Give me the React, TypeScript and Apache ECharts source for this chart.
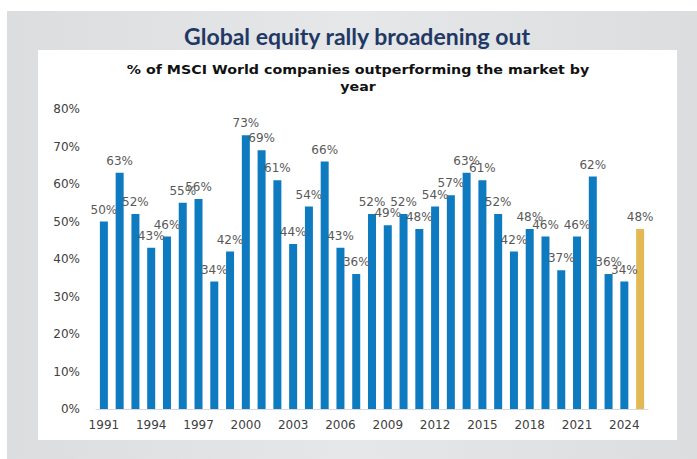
import React, { useEffect, useRef } from "react";
import * as echarts from "echarts";

const years = [
  "1991","1992","1993","1994","1995","1996","1997","1998","1999","2000",
  "2001","2002","2003","2004","2005","2006","2007","2008","2009","2010",
  "2011","2012","2013","2014","2015","2016","2017","2018","2019","2020",
  "2021","2022","2023","2024","2025",
];
const values = [
  50, 63, 52, 43, 46, 55, 56, 34, 42, 73,
  69, 61, 44, 54, 66, 43, 36, 52, 49, 52,
  48, 54, 57, 63, 61, 52, 42, 48, 46, 37,
  46, 62, 36, 34, 48,
];
const highlightYear = "2025";
const titleText = "Global equity rally broadening out";
const subtitleText = "% of MSCI World companies outperforming the market by\nyear";

const BLUE = "#0E7BC1";
const GOLD = "#E3B955";

export default function App() {
  const ref = useRef<HTMLDivElement>(null);
  useEffect(() => {
    if (!ref.current) return;
    const chart = echarts.init(ref.current, null, { renderer: "svg" });
    chart.setOption({
      animation: false,
      backgroundColor: "#ffffff",
      graphic: [
        {
          type: "rect",
          z: -10,
          shape: { x: 7, y: 11, width: 690, height: 448 },
          style: {
            fill: new echarts.graphic.LinearGradient(0, 0, 1, 0, [
              { offset: 0, color: "#DCDDDF" },
              { offset: 0.5, color: "#E6E7E9" },
              { offset: 1, color: "#DCDDDF" },
            ]),
          },
        },
        {
          type: "rect",
          z: -9,
          shape: { x: 38, y: 50, width: 639, height: 390 },
          style: { fill: "#ffffff" },
        },
        {
          type: "text",
          x: 357,
          y: 36,
          style: {
            text: titleText,
            fill: "#1F3864",
            font: "bold 23px Lato",
            align: "center",
            verticalAlign: "middle",
          },
        },
        {
          type: "text",
          x: 358,
          y: 78,
          scaleX: 1.095,
          style: {
            text: subtitleText,
            fill: "#111111",
            font: "bold 13px 'DejaVu Sans'",
            align: "center",
            verticalAlign: "middle",
            lineHeight: 17,
          },
        },
      ],
      grid: { left: 96, right: 49, top: 109, bottom: 50, containLabel: false },
      xAxis: {
        type: "category",
        data: years,
        axisLine: { lineStyle: { color: "#D9D9D9", width: 1 } },
        axisTick: { show: false },
        axisLabel: {
          interval: 2,
          color: "#404040",
          fontFamily: "DejaVu Sans",
          fontSize: 12,
          margin: 10,
        },
      },
      yAxis: {
        type: "value",
        min: 0,
        max: 80,
        interval: 10,
        axisLine: { show: false },
        axisTick: { show: false },
        splitLine: { show: false },
        axisLabel: {
          formatter: "{value}%",
          color: "#404040",
          fontFamily: "DejaVu Sans",
          fontSize: 12,
          margin: 16,
        },
      },
      series: [
        {
          type: "bar",
          barWidth: 8,
          data: values.map((v, i) => ({
            value: v,
            itemStyle: { color: years[i] === highlightYear ? GOLD : BLUE },
          })),
          label: {
            show: true,
            position: "top",
            distance: 6,
            formatter: "{c}%",
            color: "#595959",
            fontFamily: "DejaVu Sans",
            fontSize: 12,
          },
        },
      ],
    });
    return () => chart.dispose();
  }, []);
  return (
    <div
      ref={ref}
      style={{ position: "fixed", left: 0, top: 0, width: 697, height: 459 }}
    />
  );
}
